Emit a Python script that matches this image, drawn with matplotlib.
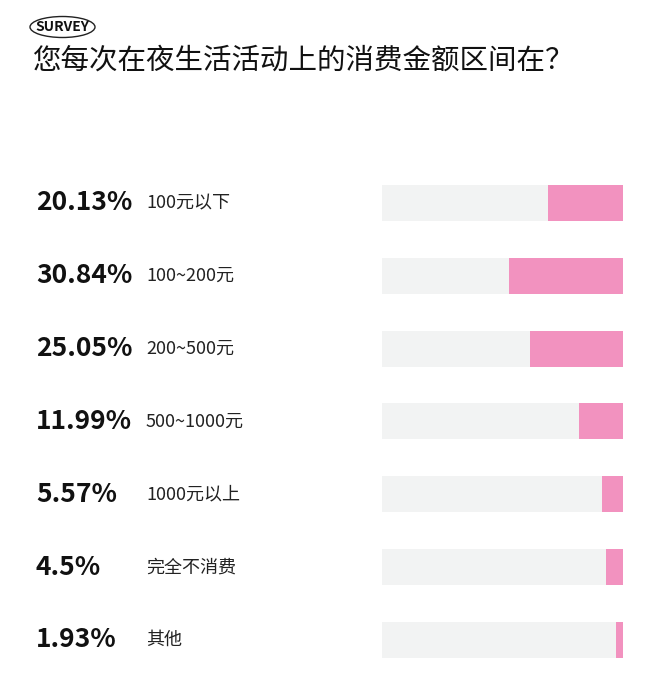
import matplotlib
matplotlib.use("Agg")
import matplotlib.pyplot as plt
from matplotlib.patches import Ellipse
from matplotlib.transforms import blended_transform_factory

plt.rcParams['font.family'] = ['Noto Sans CJK SC', 'DejaVu Sans']

title = "您每次在夜生活活动上的消费金额区间在？"
categories = ["100元以下", "100~200元", "200~500元", "500~1000元", "1000元以上", "完全不消费", "其他"]
values = [20.13, 30.84, 25.05, 11.99, 5.57, 4.5, 1.93]
value_labels = ["20.13%", "30.84%", "25.05%", "11.99%", "5.57%", "4.5%", "1.93%"]

SCALE = 65.0
PINK = "#f292bf"
GRAY = "#f2f3f3"

W, H = 660, 698
fig = plt.figure(figsize=(W / 100, H / 100), dpi=100)
fig.patch.set_facecolor("white")

# Badge
fig.patches.append(Ellipse((62.5 / W, 1 - 27 / H), 65 / W, 21 / H, transform=fig.transFigure,
                           facecolor="none", edgecolor="#222222", lw=1.0))
fig.text(62.5 / W, 1 - 27 / H, "SURVEY", ha="center", va="center", fontsize=10,
         fontweight="bold", color="#111111")
fig.text(33 / W, 1 - 61 / H, title, ha="left", va="center", fontsize=20.5, color="#111111")

ax = fig.add_axes([382 / W, 0.031, 241 / W, 0.7304])
ys = list(range(len(values)))
ax.barh(ys, [SCALE] * len(values), height=0.495, color=GRAY, left=0)
ax.barh(ys, values, height=0.495, left=[SCALE - v for v in values], color=PINK)
ax.set_xlim(0, SCALE)
ax.set_ylim(len(values) - 0.5, -0.5)
ax.axis("off")

tr = blended_transform_factory(fig.transFigure, ax.transData)
for y, vl, c in zip(ys, value_labels, categories):
    ax.text(36 / W, y, vl, transform=tr, ha="left", va="center", fontsize=19,
            fontweight="bold", color="#111111", clip_on=False)
    ax.text(146 / W, y, c, transform=tr, ha="left", va="center", fontsize=13,
            color="#222222", clip_on=False)

fig.savefig("out.png", dpi=100, facecolor="white")
